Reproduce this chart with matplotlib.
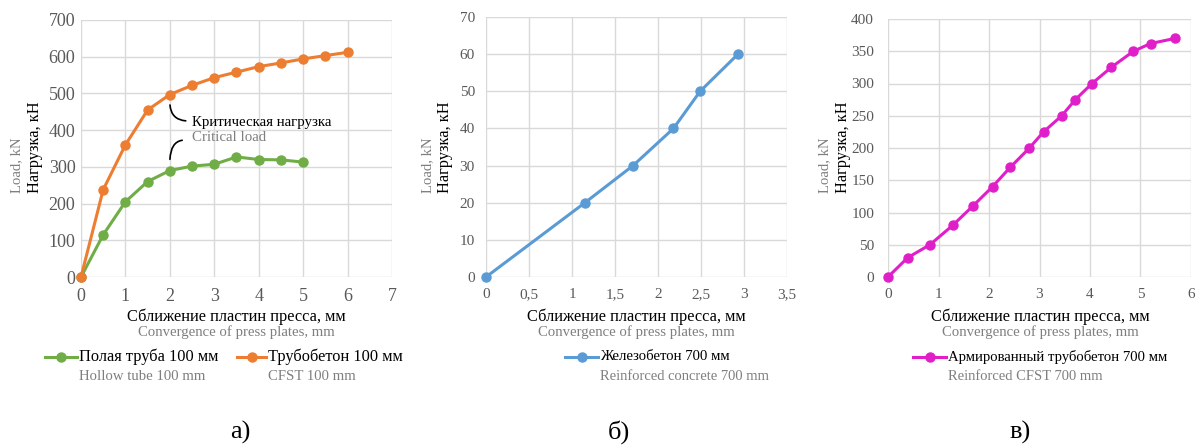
import matplotlib
matplotlib.use("Agg")
import matplotlib.pyplot as plt
from matplotlib.lines import Line2D

plt.rcParams["font.family"] = ["Liberation Serif", "DejaVu Serif"]

# --- data -------------------------------------------------------------
# a) hollow tube vs. CFST, 100 mm
hollow_x = [0, 0.5, 1, 1.5, 2, 2.5, 3, 3.5, 4, 4.5, 5]
hollow_y = [0, 115, 205, 260, 290, 302, 307, 327, 320, 319, 313]
cfst_x = [0, 0.5, 1, 1.5, 2, 2.5, 3, 3.5, 4, 4.5, 5, 5.5, 6]
cfst_y = [0, 238, 360, 455, 497, 522, 543, 558, 573, 583, 594, 603, 612]

# б) reinforced concrete, 700 mm
rc_x = [0, 1.15, 1.71, 2.18, 2.49, 2.93]
rc_y = [0, 20, 30, 40, 50, 60]

# в) reinforced CFST, 700 mm
rcfst_x = [0, 0.39, 0.83, 1.28, 1.68, 2.07, 2.42, 2.80, 3.08, 3.44,
           3.71, 4.04, 4.42, 4.86, 5.20, 5.69]
rcfst_y = [0, 30, 50, 80, 110, 140, 170, 200, 225, 250,
           275, 300, 325, 350, 362, 370]

a_xticks = [0, 1, 2, 3, 4, 5, 6, 7]
a_yticks = [0, 100, 200, 300, 400, 500, 600, 700]
b_xticks = [0, 0.5, 1, 1.5, 2, 2.5, 3, 3.5]
b_xticklabels = ["0", "0,5", "1", "1,5", "2", "2,5", "3", "3,5"]
b_yticks = [0, 10, 20, 30, 40, 50, 60, 70]
c_xticks = [0, 1, 2, 3, 4, 5, 6]
c_yticks = [0, 50, 100, 150, 200, 250, 300, 350, 400]

GREEN = "#70AD47"
ORANGE = "#ED7D31"
BLUE = "#5B9BD5"
MAGENTA = "#E01FC9"
GRID = "#D9D9D9"
TICK = "#595959"
GRAY = "#7F7F7F"

W, H = 1197, 446
fig = plt.figure(figsize=(W / 100, H / 100), dpi=100)


def px_axes(x0, y0, x1, y1):
    return fig.add_axes([x0 / W, 1 - y1 / H, (x1 - x0) / W, (y1 - y0) / H])


def style(ax, xticks, yticks, xlabels=None, size=11, ypad=8):
    ax.set_xlim(xticks[0], xticks[-1])
    ax.set_ylim(yticks[0], yticks[-1])
    ax.set_xticks(xticks)
    ax.set_yticks(yticks)
    if xlabels is not None:
        ax.set_xticklabels(xlabels)
    for s in ax.spines.values():
        s.set_visible(False)
    ax.grid(True, color=GRID, linewidth=1.0)
    ax.set_axisbelow(True)
    ax.tick_params(length=0, labelsize=size, labelcolor=TICK)
    ax.tick_params(axis="x", pad=8)
    ax.tick_params(axis="y", pad=ypad)
    for lab in ax.get_xticklabels() + ax.get_yticklabels():
        lab.set_clip_on(False)


def series(ax, x, y, color):
    ax.plot(x, y, color=color, linewidth=2.2, marker="o", markersize=6.5,
            clip_on=False, zorder=3)


def labels(x_center, ylab_x, ylab_x_en):
    fig.text(x_center / W, 1 - 317 / H, "Сближение пластин пресса, мм",
             ha="center", va="center", fontsize=11.8, color="black")
    fig.text(x_center / W, 1 - 332 / H, "Convergence of press plates, mm",
             ha="center", va="center", fontsize=10.6, color=GRAY)
    fig.text(ylab_x / W, 1 - 193 / H, "Нагрузка, кН", rotation=90,
             ha="center", va="bottom", fontsize=11.8, color="black")
    fig.text(ylab_x_en / W, 1 - 193 / H, "Load, kN", rotation=90,
             ha="center", va="bottom", fontsize=10.6, color=GRAY)


def legend_entry(x0, x1, text_ru, text_en, color, size_ru, size_en):
    y = 1 - 357 / H
    fig.add_artist(Line2D([x0 / W, x1 / W], [y, y], color=color,
                          linewidth=2.2, transform=fig.transFigure))
    fig.add_artist(Line2D([(x0 + x1) / 2 / W], [y], color=color, marker="o",
                          markersize=6.5, transform=fig.transFigure))
    fig.text((x1 + 2) / W, y, text_ru, ha="left", va="center",
             fontsize=size_ru, color="black")
    fig.text((x1 + 2) / W, 1 - 376 / H, text_en, ha="left", va="center",
             fontsize=size_en, color=GRAY)


# --- a) ---------------------------------------------------------------
ax1 = px_axes(81, 20, 392, 277)
style(ax1, a_xticks, a_yticks, size=13, ypad=4)
series(ax1, hollow_x, hollow_y, GREEN)
series(ax1, cfst_x, cfst_y, ORANGE)
ax1.annotate("", xy=(2.0, 476), xytext=(2.42, 425),
             arrowprops=dict(arrowstyle="-", color="black", linewidth=1.2,
                             connectionstyle="angle3,angleA=0,angleB=90"))
ax1.annotate("", xy=(2.0, 313), xytext=(2.34, 373),
             arrowprops=dict(arrowstyle="-", color="black", linewidth=1.2,
                             connectionstyle="angle3,angleA=0,angleB=90"))
ax1.text(2.5, 422, "Критическая нагрузка", ha="left", va="center",
         fontsize=10.7, color="black")
ax1.text(2.5, 381, "Critical load", ha="left", va="center",
         fontsize=10.7, color=GRAY)
labels(236.5, 35, 17)
legend_entry(45, 77, "Полая труба 100 мм", "Hollow tube 100 mm", GREEN,
             11.8, 10.6)
legend_entry(237, 266, "Трубобетон 100 мм", "CFST 100 mm", ORANGE,
             11.8, 10.6)
fig.text(240 / W, 1 - 432 / H, "а)", ha="center", va="center", fontsize=19)

# --- б) ---------------------------------------------------------------
ax2 = px_axes(486, 17, 787, 277)
style(ax2, b_xticks, b_yticks, b_xticklabels, size=11, ypad=8)
series(ax2, rc_x, rc_y, BLUE)
labels(636, 445, 428)
legend_entry(565, 598, "Железобетон 700 мм", "Reinforced concrete 700 mm",
             BLUE, 10.6, 10.5)
fig.text(619 / W, 1 - 432 / H, "б)", ha="center", va="center", fontsize=19)

# --- в) ---------------------------------------------------------------
ax3 = px_axes(888, 19, 1191, 277)
style(ax3, c_xticks, c_yticks, size=11, ypad=10)
series(ax3, rcfst_x, rcfst_y, MAGENTA)
labels(1040, 843, 825)
legend_entry(913, 946, "Армированный трубобетон 700 мм",
             "Reinforced CFST 700 mm", MAGENTA, 10.6, 10.5)
fig.text(1020 / W, 1 - 432 / H, "в)", ha="center", va="center", fontsize=19)

fig.savefig("out.png", dpi=100)
